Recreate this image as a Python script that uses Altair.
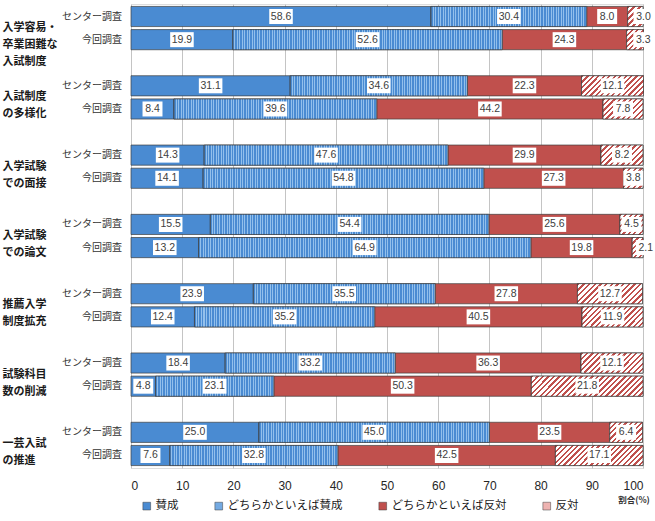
import altair as alt
import pandas as pd

# Categories
groups = [
    "入学容易・\n卒業困難な\n入試制度",
    "入試制度\nの多様化",
    "入学試験\nでの面接",
    "入学試験\nでの論文",
    "推薦入学\n制度拡充",
    "試験科目\n数の削減",
    "一芸入試\nの推進",
]
surveys = ["センター調査", "今回調査"]
answers = ["賛成", "どちらかといえば賛成", "どちらかといえば反対", "反対"]

# センター調査 (%)
center_agree = [58.6, 31.1, 14.3, 15.5, 23.9, 18.4, 25.0]
center_rather_agree = [30.4, 34.6, 47.6, 54.4, 35.5, 33.2, 45.0]
center_rather_disagree = [8.0, 22.3, 29.9, 25.6, 27.8, 36.3, 23.5]
center_disagree = [3.0, 12.1, 8.2, 4.5, 12.7, 12.1, 6.4]

# 今回調査 (%)
current_agree = [19.9, 8.4, 14.1, 13.2, 12.4, 4.8, 7.6]
current_rather_agree = [52.6, 39.6, 54.8, 64.9, 35.2, 23.1, 32.8]
current_rather_disagree = [24.3, 44.2, 27.3, 19.8, 40.5, 50.3, 42.5]
current_disagree = [3.3, 7.8, 3.8, 2.1, 11.9, 21.8, 17.1]

series = {
    0: [center_agree, center_rather_agree, center_rather_disagree, center_disagree],
    1: [current_agree, current_rather_agree, current_rather_disagree, current_disagree],
}

rows = []
for gi, g in enumerate(groups):
    for si, s in enumerate(surveys):
        for ai, a in enumerate(answers):
            rows.append({"gi": gi, "si": si, "group": g, "survey": s,
                         "answer": a, "order": ai, "value": series[si][ai][gi]})
df = pd.DataFrame(rows)

PLOT_W, PLOT_H = 512, 464
BAR_H = 20

BLUE = "#4a8bd2"
BLUE_LIGHT = "#93c0ec"
RED = "#c0504d"
EDGE = "#3f3f3f"
JP = "Noto Sans CJK JP"
NUM = "Liberation Sans"

base = alt.Chart(df).transform_stack(
    stack="value",
    groupby=["group", "survey"],
    sort=[alt.SortField("order", order="ascending")],
    as_=["x0", "x1"],
)

X = alt.X(
    "x0:Q",
    scale=alt.Scale(domain=[0, 100], nice=False),
    axis=alt.Axis(values=list(range(0, 101, 10)), grid=True, gridColor="#c4c4c4",
                  gridWidth=1, domain=False, ticks=False, labelFontSize=12,
                  labelColor="#262626", labelFont=NUM, labelPadding=12, title=None),
)
Y = alt.Y(
    "group:N",
    sort=groups,
    scale=alt.Scale(paddingInner=0.375, paddingOuter=0.035),
    axis=alt.Axis(labelExpr="split(datum.label, '\\n')", labelAlign="left",
                  labelBaseline="middle", labelPadding=129, ticks=False, domain=False,
                  grid=False, labelFont=JP, labelFontSize=11, labelFontWeight="bold",
                  labelColor="#1a1a1a", labelLineHeight=17, title=None),
)
YOFF = alt.YOffset("survey:N", sort=surveys,
                   scale=alt.Scale(paddingInner=0.13, paddingOuter=0))

bars = base.mark_bar(stroke=EDGE, strokeWidth=0.7).encode(
    x=X,
    x2="x1:Q",
    y=Y,
    yOffset=YOFF,
    color=alt.Color(
        "answer:N",
        scale=alt.Scale(domain=answers, range=[BLUE, "#74aae2", RED, "#eeb3b1"]),
        legend=alt.Legend(title=None, orient="none", legendX=10, legendY=496,
                          direction="horizontal", symbolType="square", symbolSize=60,
                          symbolStrokeColor=EDGE, symbolStrokeWidth=0.5,
                          labelFont=JP, labelFontSize=11.5, labelColor="#1a1a1a",
                          labelOffset=3, columnPadding=34),
    ),
)


def dotted_fill(width_px):
    """Vertical fine stripes for the 'rather agree' texture."""
    n = max(1, round(width_px / 2.5))
    stops = []
    for i in range(n):
        a, b, c = i / n, (i + 0.6) / n, (i + 1) / n
        stops += [{"offset": a, "color": BLUE}, {"offset": b, "color": BLUE},
                  {"offset": b, "color": BLUE_LIGHT}, {"offset": c, "color": BLUE_LIGHT}]
    return {"gradient": "linear", "x1": 0, "y1": 0, "x2": 1, "y2": 0, "stops": stops}


def hatch_fill(width_px, height_px=BAR_H, period=5.5):
    """Diagonal '/' hatching, red lines on white."""
    w, h = width_px, height_px
    s = w * (w + h) / (w * w + h * h)
    n = max(1, round((w + h) / period))
    stops = []
    for i in range(n):
        a, b, c = i / n, (i + 0.42) / n, (i + 1) / n
        stops += [{"offset": a, "color": RED}, {"offset": b, "color": RED},
                  {"offset": b, "color": "#ffffff"}, {"offset": c, "color": "#ffffff"}]
    return {"gradient": "linear", "x1": 0, "y1": 0, "x2": s, "y2": s * h / w, "stops": stops}


texture_layers = []
for gi in range(len(groups)):
    for si in range(len(surveys)):
        for ai, maker in ((1, dotted_fill), (3, hatch_fill)):
            v = series[si][ai][gi]
            wpx = v * PLOT_W / 100.0
            texture_layers.append(
                base.transform_filter(
                    (alt.datum.gi == gi) & (alt.datum.si == si) & (alt.datum.order == ai)
                ).mark_bar(fill=maker(wpx), stroke=EDGE, strokeWidth=0.7).encode(
                    x="x0:Q", x2="x1:Q", y=Y, yOffset=YOFF
                )
            )

labelled = base.transform_calculate(
    mid="(datum.x0 + datum.x1) / 2 + (datum.value < 3.5 ? 1.6 : 0)",
    hw="datum.value >= 10 ? 2.3 : 1.95",
).transform_calculate(
    bx0="datum.mid - datum.hw",
    bx1="datum.mid + datum.hw",
)

boxes = labelled.mark_bar(fill="white", height=15, strokeWidth=0).encode(
    x="bx0:Q", x2="bx1:Q", y=Y, yOffset=YOFF
)

values_text = labelled.mark_text(font=NUM, fontSize=10.5, color="#404040",
                                 baseline="middle", align="center").encode(
    x="mid:Q", y=Y, yOffset=YOFF, text=alt.Text("value:Q", format=".1f")
)

survey_text = base.transform_filter(alt.datum.order == 0).mark_text(
    font=JP, fontSize=10, color="#333333", align="right", baseline="middle"
).encode(x=alt.value(-9), y=Y, yOffset=YOFF, text="survey:N")

unit_text = alt.Chart(pd.DataFrame({"t": ["割合(%)"]})).mark_text(
    font=JP, fontSize=8.5, fontWeight="bold", color="#333333", align="center",
    baseline="middle"
).encode(x=alt.value(503), y=alt.value(496), text="t:N")

chart = alt.layer(
    bars, *texture_layers, boxes, values_text, survey_text, unit_text
).properties(
    width=PLOT_W,
    height=PLOT_H,
    autosize=alt.AutoSizeParams(type="none"),
    padding={"left": 131, "top": 4, "right": 12, "bottom": 53},
).configure_view(stroke=None).configure(background="white")

chart.save("out.html", embed_options={"renderer": "svg", "actions": False})
